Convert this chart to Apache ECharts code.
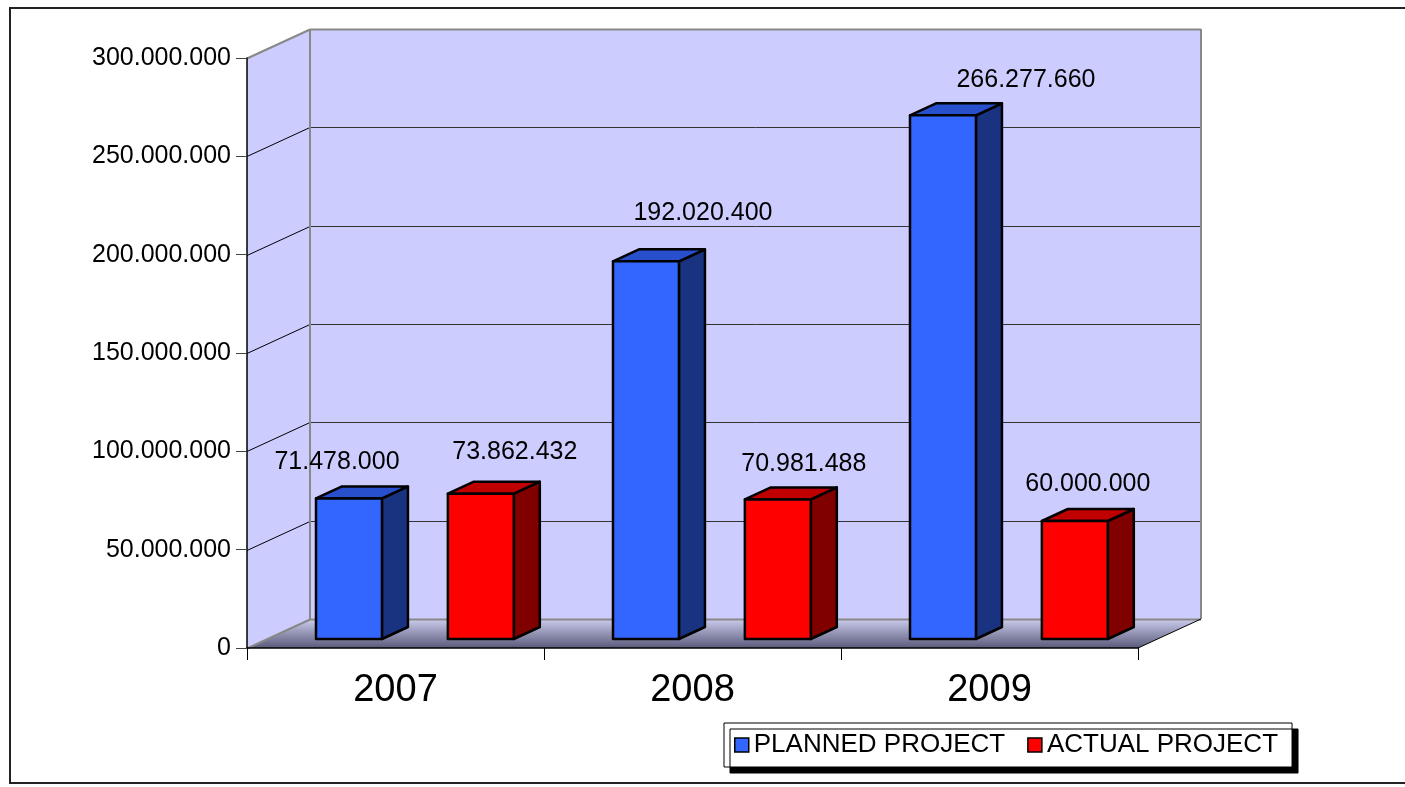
<!DOCTYPE html>
<html>
<head>
<meta charset="utf-8">
<script src="https://cdn.jsdelivr.net/npm/echarts@6/dist/echarts.min.js"></script>
<style>
html,body{margin:0;padding:0;background:#fff;}
#chart{width:1405px;height:787px;}
</style>
</head>
<body>
<div id="chart"></div>
<script>
const categories = ['2007', '2008', '2009'];
const plannedValues = [71478000, 192020400, 266277660];
const actualValues = [73862432, 70981488, 60000000];
const yTicks = [0, 50000000, 100000000, 150000000, 200000000, 250000000, 300000000];
const seriesNames = ['PLANNED PROJECT', 'ACTUAL PROJECT'];

// layout / style constants
const FONT = '"Liberation Sans", Arial, sans-serif';
const WALL = { dx: 63, dy: -29 };
const FRONT = { dx: 20, dy: -9 };
const BAR = { dx: 26, dy: -12 };
const BAR_W = 0.222;
const BAR_LEFT = { planned: -0.335, actual: 0.109 };
const LABEL_OFF = {
  planned: [[-12, -36], [57, -48], [83, -35]],
  actual: [[34, -42], [26, -35], [13, -37]]
};
const COLORS = {
  planned: { front: '#3366FF', side: '#1A3380', top: '#2850CC' },
  actual: { front: '#FF0000', side: '#800000', top: '#C00000' }
};

function fmt(v) {
  return String(Math.round(v)).replace(/\B(?=(\d{3})+(?!\d))/g, '.');
}

function wallsRender(params, api) {
  const cs = params.coordSys;
  const x0 = cs.x, x1 = cs.x + cs.width;
  const yTop = cs.y, yBot = cs.y + cs.height;
  const dx = WALL.dx, dy = WALL.dy;
  const children = [];
  children.push({ type: 'polygon', shape: { points: [[x0 + dx, yTop + dy], [x1 + dx, yTop + dy], [x1 + dx, yBot + dy], [x0 + dx, yBot + dy]] },
    style: { fill: '#CCCCFF', stroke: null } });
  children.push({ type: 'polygon', shape: { points: [[x0, yTop], [x0 + dx, yTop + dy], [x0 + dx, yBot + dy], [x0, yBot]] },
    style: { fill: '#CCCCFF', stroke: null } });
  children.push({ type: 'polygon', shape: { points: [[x0, yBot], [x0 + dx, yBot + dy], [x1 + dx, yBot + dy], [x1, yBot]] },
    style: { fill: new echarts.graphic.LinearGradient(0, 0, 0, 1, [
      { offset: 0, color: '#CCCCEE' }, { offset: 1, color: '#5A5A7A' }]), stroke: null } });
  yTicks.forEach(function (v, k) {
    const y = Math.round(api.coord([0, v])[1]) + 0.5;
    const edge = (k === 0 || k === yTicks.length - 1);
    children.push({ type: 'line', shape: { x1: x0, y1: y, x2: x0 + dx, y2: y + dy },
      style: { stroke: edge ? '#888888' : '#000000', lineWidth: edge ? 2 : 1 } });
    children.push({ type: 'line', shape: { x1: x0 + dx, y1: y + dy, x2: x1 + dx, y2: y + dy },
      style: { stroke: edge ? '#888888' : '#333333', lineWidth: edge ? 2 : 1 } });
  });
  children.push({ type: 'line', shape: { x1: x0 + dx, y1: yTop + dy, x2: x0 + dx, y2: yBot + dy },
    style: { stroke: '#888888', lineWidth: 2 } });
  children.push({ type: 'line', shape: { x1: x1 + dx, y1: yTop + dy, x2: x1 + dx, y2: yBot + dy },
    style: { stroke: '#888888', lineWidth: 2 } });
  children.push({ type: 'line', shape: { x1: x1, y1: yBot, x2: x1 + dx, y2: yBot + dy },
    style: { stroke: '#000000', lineWidth: 1 } });
  return { type: 'group', children: children };
}

function makeBarRender(key) {
  return function (params, api) {
    const i = api.value(0);
    const v = api.value(1);
    const base = api.coord([i, 0]);
    const top = api.coord([i, v]);
    const catW = api.size([1, 0])[0];
    const w = catW * BAR_W;
    const L = base[0] + FRONT.dx + catW * BAR_LEFT[key];
    const R = L + w;
    const yb = base[1] + FRONT.dy;
    const yt = top[1] + FRONT.dy;
    const c = COLORS[key];
    const st = { stroke: '#000', lineWidth: 2.5, lineJoin: 'round' };
    const off = LABEL_OFF[key][i];
    return {
      type: 'group',
      children: [
        { type: 'polygon', shape: { points: [[R, yt], [R + BAR.dx, yt + BAR.dy], [R + BAR.dx, yb + BAR.dy], [R, yb]] },
          style: Object.assign({ fill: c.side }, st) },
        { type: 'polygon', shape: { points: [[L, yt], [L + BAR.dx, yt + BAR.dy], [R + BAR.dx, yt + BAR.dy], [R, yt]] },
          style: Object.assign({ fill: c.top }, st) },
        { type: 'rect', shape: { x: L, y: yt, width: w, height: yb - yt },
          style: Object.assign({ fill: c.front }, st) },
        { type: 'text', style: { text: fmt(v), x: (L + R) / 2 + off[0], y: yt + off[1],
          align: 'center', verticalAlign: 'middle', font: '25px ' + FONT, fill: '#000' } }
      ]
    };
  };
}

const chart = echarts.init(document.getElementById('chart'), null, { renderer: 'canvas' });

const option = {
  animation: false,
  backgroundColor: '#ffffff',
  graphic: [
    { type: 'rect', z: -10, shape: { x: 10, y: 8, width: 1420, height: 775 },
      style: { fill: 'none', stroke: '#222', lineWidth: 2 } }
  ],
  grid: { left: 247, right: 267, top: 58, bottom: 139, containLabel: false },
  legend: {
    data: seriesNames,
    left: 724, top: 723,
    orient: 'horizontal',
    padding: [9, 14, 9, 10],
    itemGap: 22,
    itemWidth: 14, itemHeight: 14,
    icon: 'rect',
    backgroundColor: '#fff',
    borderColor: '#000', borderWidth: 1,
    shadowColor: '#000', shadowBlur: 0, shadowOffsetX: 6, shadowOffsetY: 6,
    itemStyle: { borderColor: '#000', borderWidth: 1.5 },
    textStyle: { fontFamily: FONT, fontSize: 26, color: '#000' },
    z: 10
  },
  xAxis: {
    type: 'category',
    data: categories,
    z: 5,
    axisLine: { show: true, lineStyle: { color: '#000', width: 1.5 } },
    axisTick: { show: true, length: 12, lineStyle: { color: '#000', width: 1 } },
    axisLabel: { fontFamily: FONT, fontSize: 38, color: '#000', margin: 24 },
    splitLine: { show: false }
  },
  yAxis: {
    type: 'value',
    min: 0, max: 300000000, interval: 50000000,
    z: 5,
    axisLine: { show: true, lineStyle: { color: '#000', width: 1.5 } },
    axisTick: { show: true, length: 11, lineStyle: { color: '#444', width: 1 } },
    axisLabel: { fontFamily: FONT, fontSize: 25, color: '#000', margin: 16, formatter: fmt },
    splitLine: { show: false }
  },
  series: [
    { type: 'custom', name: '__walls', z: 1, silent: true, renderItem: wallsRender,
      data: [[0, 0]], encode: { x: 0, y: 1 }, legendHoverLink: false },
    { type: 'custom', name: seriesNames[0], z: 2, renderItem: makeBarRender('planned'),
      itemStyle: { color: COLORS.planned.front },
      data: plannedValues.map(function (v, i) { return [i, v]; }), encode: { x: 0, y: 1 } },
    { type: 'custom', name: seriesNames[1], z: 2, renderItem: makeBarRender('actual'),
      itemStyle: { color: COLORS.actual.front },
      data: actualValues.map(function (v, i) { return [i, v]; }), encode: { x: 0, y: 1 } }
  ]
};
chart.setOption(option);
</script>
</body>
</html>
